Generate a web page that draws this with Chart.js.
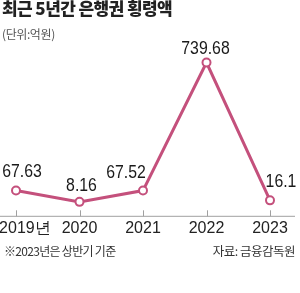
<!DOCTYPE html>
<html><head><meta charset="utf-8">
<script src="https://cdn.jsdelivr.net/npm/chart.js@4"></script>
<style>
html,body{margin:0;padding:0;background:#fff;}
#wrap{position:relative;width:300px;height:293px;overflow:hidden;}
#c{position:absolute;left:0;top:0;}
.t{position:absolute;white-space:nowrap;font-family:"Noto Sans CJK KR","Noto Sans",sans-serif;}
#title{left:2px;top:-3px;font-size:17px;font-weight:900;color:#222;letter-spacing:-0.6px;line-height:22px;}
#unit{left:2px;top:26px;font-size:12px;color:#555;letter-spacing:-0.4px;line-height:16px;}
#note{left:4px;top:243px;font-size:12px;color:#333;letter-spacing:-0.7px;line-height:16px;}
#src{right:5px;top:243px;font-size:12.5px;color:#333;letter-spacing:-0.5px;line-height:16px;}
</style></head>
<body>
<div id="wrap">
<canvas id="c" width="300" height="293"></canvas>
<div class="t" id="title">최근 5년간 은행권 횡령액</div>
<div class="t" id="unit">(단위:억원)</div>
<div class="t" id="note">※2023년은 상반기 기준</div>
<div class="t" id="src">자료: 금융감독원</div>
</div>
<script>
const categories = ["2019년", "2020", "2021", "2022", "2023"];
const values = [67.63, 8.16, 67.52, 739.68, 16.1];
const valueLabels = ["67.63", "8.16", "67.52", "739.68", "16.1"];

const NUM_FONT = '"Liberation Sans","Arial",sans-serif';
const LINE_COLOR = '#c4507c';
const labelOffsets = [[6,-19],[2,-16],[-17,-18],[-1,-14],[11,-18]];

const decor = {
  id: 'decor',
  beforeDatasetsDraw(chart) {
    const ctx = chart.ctx, xs = chart.scales.x;
    const y = xs.top + 0.5;
    ctx.save();
    ctx.strokeStyle = '#a0a0a0';
    ctx.lineWidth = 1;
    ctx.beginPath();
    ctx.moveTo(0, y); ctx.lineTo(295, y);
    xs.ticks.forEach((t, i) => {
      const x = Math.round(xs.getPixelForTick(i)) + 0.5;
      ctx.moveTo(x, y - 6); ctx.lineTo(x, y);
    });
    ctx.stroke();
    ctx.restore();
  },
  afterDatasetsDraw(chart) {
    const ctx = chart.ctx;
    const meta = chart.getDatasetMeta(0);
    const sx = 0.88;
    ctx.save();
    ctx.fillStyle = '#1a1a1a';
    ctx.font = '18px ' + NUM_FONT;
    ctx.textAlign = 'center';
    ctx.textBaseline = 'middle';
    meta.data.forEach((pt, i) => {
      const o = labelOffsets[i];
      ctx.save();
      ctx.translate(pt.x + o[0], pt.y + o[1]);
      ctx.scale(sx, 1);
      ctx.fillText(valueLabels[i], 0, 0);
      ctx.restore();
    });
    ctx.restore();
  }
};

new Chart(document.getElementById('c'), {
  type: 'line',
  data: {
    labels: categories.map((c, i) => i === 0 ? '    ' + c : c),
    datasets: [{
      data: values,
      borderColor: LINE_COLOR,
      borderWidth: 3,
      pointRadius: 4,
      pointBorderWidth: 2,
      pointBackgroundColor: '#fff',
      pointBorderColor: LINE_COLOR,
      tension: 0,
      clip: false
    }]
  },
  options: {
    responsive: false,
    animation: false,
    devicePixelRatio: 1,
    layout: { padding: { left: 16, right: 30, top: 40, bottom: 52 } },
    plugins: { legend: { display: false }, tooltip: { enabled: false } },
    scales: {
      x: {
        offset: false,
        grid: { display: false, drawTicks: false },
        border: { display: false },
        ticks: { color: '#222', padding: 3, maxRotation: 0, autoSkip: false,
                 font: { family: NUM_FONT, size: 16 } },
        afterFit(s) { s.paddingLeft = 0; s.paddingRight = 0; }
      },
      y: { display: false, min: -65, max: 858 }
    }
  },
  plugins: [decor]
});
</script>
</body></html>
